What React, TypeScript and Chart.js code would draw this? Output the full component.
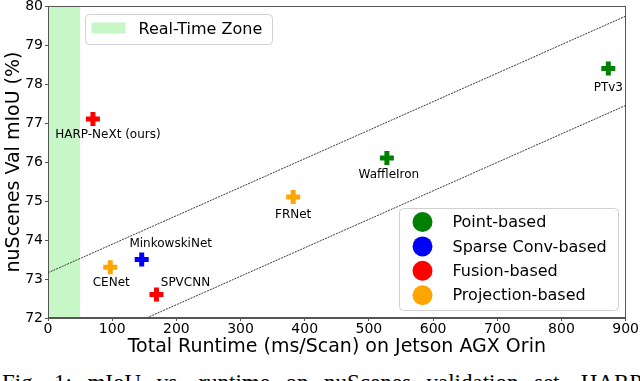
import React, { useEffect, useRef } from "react";
import { Chart, registerables } from "chart.js";

Chart.register(...registerables);

// ---------------- data ----------------
const MODEL_NAMES = ["PTv3", "WaffleIron", "FRNet", "MinkowskiNet", "CENet", "SPVCNN", "HARP-NeXt (ours)"];
const RUNTIMES = [873, 528, 382, 146, 97, 169, 70];
const MIOUS = [78.4, 76.1, 75.1, 73.5, 73.3, 72.6, 77.1];
const MODEL_TYPES = [
  "Point-based",
  "Point-based",
  "Projection-based",
  "Sparse Conv-based",
  "Projection-based",
  "Fusion-based",
  "Fusion-based",
];
const TYPE_NAMES = ["Point-based", "Sparse Conv-based", "Fusion-based", "Projection-based"];
const TYPE_COLORS = ["#008000", "#0000ff", "#ff0000", "#ffa500"];
const REALTIME_LIMIT = 50;
const REALTIME_LABEL = "Real-Time Zone";
const TRADEOFF_UPPER = [
  { x: 0, y: 73.16 },
  { x: 900, y: 79.74 },
];
const TRADEOFF_LOWER = [
  { x: 0, y: 70.88 },
  { x: 900, y: 77.45 },
];
const X_TICKS = [0, 100, 200, 300, 400, 500, 600, 700, 800, 900];
const Y_TICKS = [72, 73, 74, 75, 76, 77, 78, 79, 80];
const X_TITLE = "Total Runtime (ms/Scan) on Jetson AGX Orin";
const Y_TITLE = "nuScenes Val mIoU (%)";
const CAPTION = "Fig. 1: mIoU vs. runtime on nuScenes validation set. HARP-NeXt";

// label pixel offsets (style, not data)
const LABEL_OFFSETS: [number, number][] = [
  [0, 19],
  [2, 17],
  [0, 18],
  [29, -16],
  [1, 16],
  [29, -12],
  [15, 16],
];

const FONT = "'DejaVu Sans', sans-serif";

const overlayPlugin = {
  id: "overlay",
  beforeDatasetsDraw(chart: any) {
    const { ctx, chartArea, scales } = chart;
    const x0 = scales.x.getPixelForValue(0);
    const x1 = scales.x.getPixelForValue(REALTIME_LIMIT);
    ctx.save();
    ctx.fillStyle = "rgba(144,238,144,0.5)";
    ctx.fillRect(x0, chartArea.top, x1 - x0, chartArea.bottom - chartArea.top);
    ctx.restore();
  },
  afterDatasetsDraw(chart: any) {
    const { ctx, chartArea, scales } = chart;
    ctx.save();
    // frame
    ctx.strokeStyle = "#555";
    ctx.lineWidth = 1;
    const l = Math.round(chartArea.left) + 0.5;
    const r = Math.round(chartArea.right) - 0.5;
    const t = Math.round(chartArea.top) + 0.5;
    const b = Math.round(chartArea.bottom) - 0.5;
    ctx.strokeRect(l, t, r - l, b - t);

    // point labels
    ctx.fillStyle = "#000";
    ctx.font = `12px ${FONT}`;
    ctx.textAlign = "center";
    ctx.textBaseline = "middle";
    MODEL_NAMES.forEach((name, i) => {
      const px = scales.x.getPixelForValue(RUNTIMES[i]);
      const py = scales.y.getPixelForValue(MIOUS[i]);
      ctx.fillText(name, px + LABEL_OFFSETS[i][0], py + LABEL_OFFSETS[i][1]);
    });

    const roundRect = (x: number, y: number, w: number, h: number, rad: number) => {
      ctx.beginPath();
      ctx.moveTo(x + rad, y);
      ctx.lineTo(x + w - rad, y);
      ctx.arcTo(x + w, y, x + w, y + rad, rad);
      ctx.lineTo(x + w, y + h - rad);
      ctx.arcTo(x + w, y + h, x + w - rad, y + h, rad);
      ctx.lineTo(x + rad, y + h);
      ctx.arcTo(x, y + h, x, y + h - rad, rad);
      ctx.lineTo(x, y + rad);
      ctx.arcTo(x, y, x + rad, y, rad);
      ctx.closePath();
    };

    // legend 1: real-time zone
    {
      const bx = Math.round(chartArea.left) + 37.5;
      const by = Math.round(chartArea.top) + 8.5;
      roundRect(bx, by, 187, 30, 4);
      ctx.fillStyle = "rgba(255,255,255,0.8)";
      ctx.fill();
      ctx.strokeStyle = "#d0d0d0";
      ctx.stroke();
      ctx.fillStyle = "rgba(144,238,144,0.5)";
      ctx.fillRect(bx + 6, by + 8, 34, 11);
      ctx.fillStyle = "#000";
      ctx.font = `16px ${FONT}`;
      ctx.textAlign = "left";
      ctx.textBaseline = "middle";
      ctx.fillText(REALTIME_LABEL, bx + 53, by + 15);
    }

    // legend 2: model types
    {
      const w = 219;
      const h = 102;
      const bx = Math.round(chartArea.right) - 7.5 - w;
      const by = Math.round(chartArea.bottom) - 7.5 - h;
      roundRect(bx, by, w, h, 4);
      ctx.fillStyle = "rgba(255,255,255,0.8)";
      ctx.fill();
      ctx.strokeStyle = "#d0d0d0";
      ctx.stroke();
      ctx.font = `16px ${FONT}`;
      ctx.textAlign = "left";
      ctx.textBaseline = "middle";
      TYPE_NAMES.forEach((name, i) => {
        const cy = by + 13.5 + i * 24.4;
        ctx.beginPath();
        ctx.arc(bx + 23, cy, 10, 0, Math.PI * 2);
        ctx.fillStyle = TYPE_COLORS[i];
        ctx.fill();
        ctx.fillStyle = "#000";
        ctx.fillText(name, bx + 53, cy + 1);
      });
    }
    ctx.restore();
  },
};

export default function App() {
  const canvasRef = useRef<HTMLCanvasElement | null>(null);

  useEffect(() => {
    if (!canvasRef.current) return;
    const scatterSets = TYPE_NAMES.map((type, ti) => ({
      type: "scatter" as const,
      label: type,
      data: MODEL_NAMES.map((_, i) => i)
        .filter((i) => MODEL_TYPES[i] === type)
        .map((i) => ({ x: RUNTIMES[i], y: MIOUS[i] })),
      pointStyle: "cross",
      pointRadius: 7,
      pointBorderWidth: 5,
      borderColor: TYPE_COLORS[ti],
      backgroundColor: TYPE_COLORS[ti],
      pointBorderColor: TYPE_COLORS[ti],
      order: 0,
    }));
    const lineSets = [TRADEOFF_UPPER, TRADEOFF_LOWER].map((d, i) => ({
      type: "line" as const,
      label: "tradeoff" + i,
      data: d,
      borderColor: "#222",
      borderWidth: 0.9,
      borderDash: [2, 1],
      pointRadius: 0,
      fill: false,
      order: 1,
    }));

    const chart = new Chart(canvasRef.current, {
      type: "scatter",
      data: { datasets: [...lineSets, ...scatterSets] as any },
      options: {
        animation: false,
        responsive: true,
        maintainAspectRatio: false,
        layout: { padding: { top: 0, right: 13, left: 0, bottom: 0 } },
        plugins: { legend: { display: false }, tooltip: { enabled: false } },
        scales: {
          x: {
            type: "linear",
            min: 0,
            max: 900,
            afterBuildTicks: (s: any) => {
              s.ticks = X_TICKS.map((v) => ({ value: v }));
            },
            afterFit: (s: any) => {
              s.height = 42;
            },
            grid: { drawOnChartArea: false, drawTicks: true, tickLength: 3, color: "#555" },
            border: { display: true, color: "#555" },
            ticks: {
              color: "#000",
              font: { family: FONT, size: 14, lineHeight: 1 },
              padding: 1,
              maxRotation: 0,
              autoSkip: false,
            },
            title: {
              display: true,
              text: X_TITLE,
              color: "#000",
              font: { family: FONT, size: 19, lineHeight: 1.2 },
              padding: { top: 0, bottom: 2 },
            },
          },
          y: {
            type: "linear",
            min: 72,
            max: 80,
            afterBuildTicks: (s: any) => {
              s.ticks = Y_TICKS.map((v) => ({ value: v }));
            },
            afterFit: (s: any) => {
              s.width = 48;
            },
            grid: { drawOnChartArea: false, drawTicks: true, tickLength: 3, color: "#555" },
            border: { display: true, color: "#555" },
            ticks: {
              color: "#000",
              font: { family: FONT, size: 14, lineHeight: 0.9 },
              padding: 2,
              autoSkip: false,
            },
            title: {
              display: true,
              text: Y_TITLE,
              color: "#000",
              font: { family: FONT, size: 19, lineHeight: 1.2 },
              padding: { top: 3, bottom: 0 },
            },
          },
        },
      },
      plugins: [overlayPlugin],
    });
    return () => chart.destroy();
  }, []);

  return (
    <div
      style={{
        position: "absolute",
        left: 0,
        top: 0,
        width: 640,
        height: 381,
        overflow: "hidden",
        background: "#fff",
      }}
    >
      <div style={{ position: "absolute", left: 0, top: -6, width: 640, height: 366 }}>
        <canvas ref={canvasRef} />
      </div>
      <div
        style={{
          position: "absolute",
          left: 2,
          top: 371,
          fontFamily: "'Liberation Serif', 'DejaVu Serif', serif",
          fontSize: 23,
          lineHeight: "23px",
          wordSpacing: 9.8,
          whiteSpace: "nowrap",
          color: "#000",
        }}
      >
        {CAPTION}
      </div>
    </div>
  );
}
